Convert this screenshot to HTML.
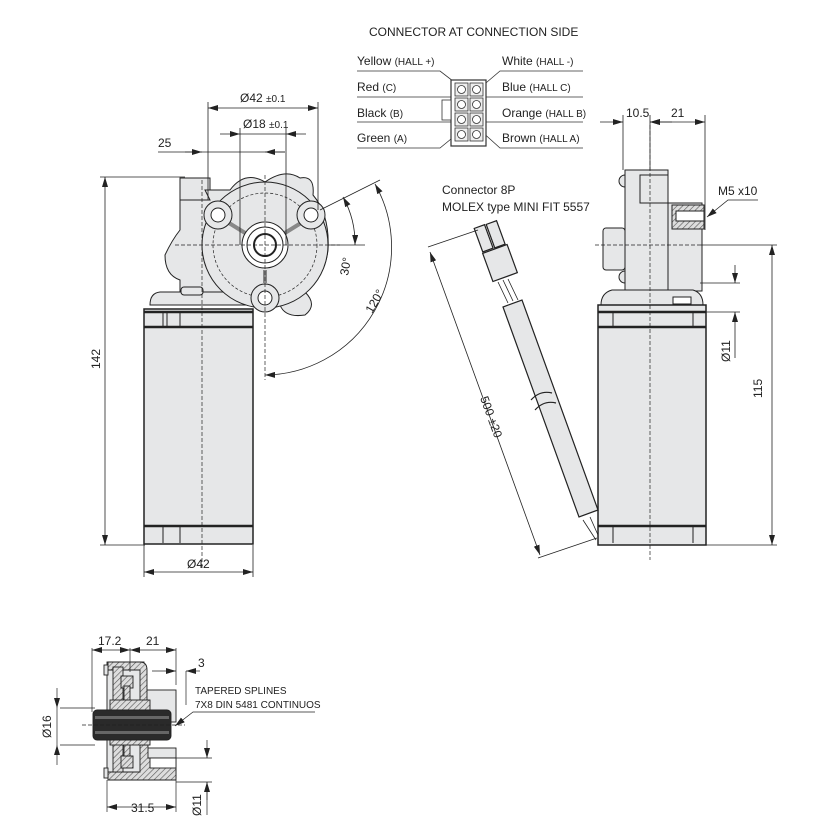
<!DOCTYPE html>
<html><head><meta charset="utf-8"><style>
html,body{margin:0;padding:0;background:#fff}
svg{display:block}
text{font-family:"Liberation Sans",Arial,sans-serif;fill:#222}
</style></head><body>
<svg width="824" height="833" viewBox="0 0 824 833" xmlns="http://www.w3.org/2000/svg">
<defs>
<marker id="a" viewBox="0 0 10 6" refX="10" refY="3" markerWidth="10" markerHeight="6" orient="auto-start-reverse" markerUnits="userSpaceOnUse"><path d="M0,0L10,3L0,6z" fill="#222"/></marker>
<pattern id="h" width="4" height="4" patternUnits="userSpaceOnUse" patternTransform="rotate(45)"><rect width="4" height="4" fill="#ddd"/><line x1="0" y1="0" x2="0" y2="4" stroke="#555" stroke-width="1.2"/></pattern>
</defs>
<text x="369" y="36" font-size="12">CONNECTOR AT CONNECTION SIDE</text>
<g font-size="12">
<text x="357" y="65">Yellow <tspan font-size="10">(HALL +)</tspan></text>
<text x="357" y="91">Red <tspan font-size="10">(C)</tspan></text>
<text x="357" y="117">Black <tspan font-size="10">(B)</tspan></text>
<text x="357" y="142">Green <tspan font-size="10">(A)</tspan></text>
<text x="502" y="65">White <tspan font-size="10">(HALL -)</tspan></text>
<text x="502" y="91">Blue <tspan font-size="10">(HALL C)</tspan></text>
<text x="502" y="117">Orange <tspan font-size="10">(HALL B)</tspan></text>
<text x="502" y="142">Brown <tspan font-size="10">(HALL A)</tspan></text>
</g>
<g stroke="#333" fill="none" stroke-width="0.8">
<path d="M357,71H440L462,88M357,97H462M357,122H462M357,148H440L462,130"/>
<path d="M583,71H500L480,88M583,97H480M583,122H480M583,148H500L480,130"/>
<rect x="451" y="80" width="35" height="66" fill="#fff" stroke-width="1.2"/>
<rect x="442" y="100" width="9" height="20" fill="#fff"/>
<g fill="#eee">
<rect x="455" y="83" width="13" height="13"/><rect x="470" y="83" width="13" height="13"/>
<rect x="455" y="98" width="13" height="13"/><rect x="470" y="98" width="13" height="13"/>
<rect x="455" y="113" width="13" height="13"/><rect x="470" y="113" width="13" height="13"/>
<rect x="455" y="128" width="13" height="13"/><rect x="470" y="128" width="13" height="13"/>
</g>
<g fill="#fff"><circle cx="461.5" cy="89.5" r="4"/><circle cx="476.5" cy="89.5" r="4"/><circle cx="461.5" cy="104.5" r="4"/><circle cx="476.5" cy="104.5" r="4"/><circle cx="461.5" cy="119.5" r="4"/><circle cx="476.5" cy="119.5" r="4"/><circle cx="461.5" cy="134.5" r="4"/><circle cx="476.5" cy="134.5" r="4"/></g>
</g>

<!-- LEFT VIEW -->
<g stroke="#222" stroke-width="1">
<path d="M180,178H210V200H180Z" fill="#e6e7e8"/>
<path d="M180,200H210L205,190 L230,190 Q245,170 265,182 Q285,168 300,178 Q315,175 313,195 Q330,215 328,250 Q325,275 305,292 Q318,305 305,315 Q285,318 280,305 H180 V280 Q165,275 165,255 Q172,240 180,230Z" fill="#e6e7e8"/>
<path d="M150,305 Q150,293 160,292 H250 Q258,293 258,305Z" fill="#e6e7e8"/>
<rect x="181" y="287" width="22" height="8" rx="3" fill="#e6e7e8"/>
<circle cx="265" cy="245" r="63" fill="#e6e7e8"/>
<circle cx="265" cy="245" r="52" fill="none" stroke-dasharray="3,2" stroke-width="0.7"/>
<path d="M229,223L250,236M301,223L280,236M265,283V270" stroke-width="4" stroke="#888"/>
<circle cx="218" cy="215" r="14" fill="#e6e7e8"/><circle cx="218" cy="215" r="7" fill="#fff"/>
<circle cx="311" cy="215" r="14" fill="#e6e7e8"/><circle cx="311" cy="215" r="7" fill="#fff"/>
<circle cx="265" cy="298" r="14" fill="#e6e7e8"/><circle cx="265" cy="298" r="7" fill="#fff"/>
<circle cx="265" cy="245" r="23" fill="#fff"/><circle cx="265" cy="245" r="18" fill="none"/><circle cx="265" cy="245" r="11" fill="#fff" stroke-width="2"/>
<rect x="144" y="309" width="109" height="235" fill="#e6e7e8" stroke-width="1.5"/>
<path d="M144,312H253M144,327H253M144,526H253" stroke-width="2.5"/>
<path d="M163,312V327M167,312V327M180,312V327M163,526V543M180,526V543"/>
</g>
<g stroke="#222" stroke-width="0.7" stroke-dasharray="4,2" fill="none">
<path d="M202,180V570M175,245H340M265,175V380"/>
</g>
<g stroke="#222" stroke-width="0.8" fill="none">
<path d="M100,177H185M100,545H145"/>
<path d="M105,177V545" marker-start="url(#a)" marker-end="url(#a)"/>
<path d="M144,545V577M253,545V577"/>
<path d="M144,572H253" marker-start="url(#a)" marker-end="url(#a)"/>
<path d="M208,102V200M318,102V210M240,128V245M286,128V245"/>
<path d="M208,108H318" marker-start="url(#a)" marker-end="url(#a)"/>
<path d="M220,134H240" marker-end="url(#a)"/><path d="M306,134H286" marker-end="url(#a)"/><path d="M240,134H286"/>
<path d="M158,152H202" /><path d="M185,152H202" marker-end="url(#a)"/><path d="M285,152H265" marker-end="url(#a)"/><path d="M202,152H285"/>
<path d="M320,210L380,180M328,245H365"/>
<path d="M343,197A95,95 0 0 1 355,245" marker-start="url(#a)" marker-end="url(#a)"/>
<path d="M375,184A128,128 0 0 1 265,375" marker-start="url(#a)" marker-end="url(#a)"/>
</g>
<text x="240" y="102" font-size="12">Ø42 <tspan font-size="10">±0.1</tspan></text>
<text x="243" y="128" font-size="12">Ø18 <tspan font-size="10">±0.1</tspan></text>
<text x="158" y="147" font-size="12">25</text>
<text x="187" y="568" font-size="12">Ø42</text>
<text font-size="12" transform="translate(100,369) rotate(-90)">142</text>
<text font-size="12" transform="translate(348,276) rotate(-80)">30°</text>
<text font-size="12" transform="translate(372,314) rotate(-60)">120°</text>

<!-- RIGHT VIEW -->
<text x="442" y="194" font-size="12">Connector 8P</text>
<text x="442" y="211" font-size="12">MOLEX type MINI FIT 5557</text>
<text x="626" y="117" font-size="12">10.5</text>
<text x="671" y="117" font-size="12">21</text>
<g stroke="#222" stroke-width="1">
<rect x="603" y="228" width="22" height="42" rx="3" fill="#e6e7e8"/>
<circle cx="625" cy="181" r="6" fill="#e6e7e8"/><circle cx="625" cy="277" r="6" fill="#e6e7e8"/>
<rect x="668" y="203" width="34" height="88" fill="#e6e7e8"/>
<rect x="672" y="205" width="32" height="24" fill="url(#h)"/>
<rect x="676" y="211" width="28" height="10" fill="#fff"/>
<rect x="625" y="170" width="43" height="125" fill="#e6e7e8"/>
<rect x="640" y="175" width="28" height="28" fill="#e6e7e8"/>
<path d="M601,305Q601,293 612,290H693Q703,293 703,305Z" fill="#e6e7e8"/>
<rect x="598" y="305" width="108" height="240" fill="#e6e7e8" stroke-width="1.5"/>
<path d="M598,312H706M598,327H706M598,526H706" stroke-width="2.5"/>
<path d="M613,312V327M693,312V327M613,526V543M693,526V543"/>
<rect x="673" y="297" width="18" height="7" fill="#fff"/>
</g>
<g stroke="#222" stroke-width="0.7" stroke-dasharray="4,2" fill="none"><path d="M650,125V560M595,245H700"/></g>
<g stroke="#222" stroke-width="0.8" fill="none">
<path d="M623,115V170M650,115V170M705,115V230"/>
<path d="M600,122H623" marker-end="url(#a)"/><path d="M672,122H650" marker-end="url(#a)"/><path d="M650,122H705" marker-start="url(#a)" marker-end="url(#a)"/>
<path d="M700,245H777M706,545H777"/>
<path d="M772,245V545" marker-start="url(#a)" marker-end="url(#a)"/>
<path d="M700,283H740M706,312H740"/>
<path d="M735,265V283" marker-end="url(#a)"/><path d="M735,330V312" marker-end="url(#a)"/><path d="M735,330V358"/>
<path d="M758,200H728L707,217" marker-end="url(#a)"/>
</g>
<!-- cable -->
<g stroke="#222" stroke-width="1.2">
<path d="M503,307L579,517L598,510L522,300Z" fill="#e6e7e8"/>
<path d="M531,400Q540,390 552,393" fill="none"/>
<path d="M535,410Q544,400 556,403" fill="none"/>
<path d="M508,303L498,282M513,301L503,280M518,300L508,279" stroke-width="0.8"/>
<path d="M583,520L596,540M590,517L598,535" stroke-width="0.8"/>
<rect x="487" y="248" width="26" height="30" transform="rotate(-20 500 263)" fill="#e6e7e8"/>
<rect x="478" y="226" width="11" height="25" transform="rotate(-20 483 238)" fill="#e6e7e8"/>
<rect x="490" y="222" width="11" height="25" transform="rotate(-20 495 234)" fill="#e6e7e8"/>
</g>
<g stroke="#222" stroke-width="0.8" fill="none">
<path d="M430,252L540,555" marker-start="url(#a)" marker-end="url(#a)"/>
<path d="M428,247L478,230M538,558L597,538"/>
</g>
<text font-size="12" transform="translate(480,398) rotate(70)">500 ±20</text>
<text font-size="12" transform="translate(762,398) rotate(-90)">115</text>
<text font-size="12" transform="translate(730,362) rotate(-90)">Ø11</text>
<text x="718" y="195" font-size="12">M5 x10</text>

<!-- BOTTOM SECTION -->
<g stroke="#222" stroke-width="0.9">
<rect x="107" y="662" width="37" height="112" fill="#e6e7e8"/>
<rect x="144" y="690" width="32" height="32" fill="#e6e7e8"/>
<rect x="144" y="748" width="32" height="30" fill="#e6e7e8"/>
<path d="M108,662H140Q147,662 147,670V705H140V670H108Z" fill="url(#h)"/>
<path d="M108,780H176V758H148V745H140V772H108Z" fill="url(#h)"/>
<rect x="113" y="667" width="10" height="105" fill="url(#h)"/>
<rect x="121" y="676" width="12" height="12" fill="url(#h)"/>
<rect x="121" y="756" width="12" height="12" fill="url(#h)"/>
<rect x="124" y="686" width="6" height="70" fill="url(#h)"/>
<rect x="110" y="700" width="40" height="10" fill="url(#h)"/>
<rect x="110" y="735" width="40" height="10" fill="url(#h)"/>
<rect x="93" y="710" width="78" height="30" rx="4" fill="#2a2a2a"/>
<rect x="95" y="716" width="74" height="3" fill="#666" stroke="none"/>
<rect x="95" y="731" width="74" height="3" fill="#666" stroke="none"/>
<rect x="150" y="758" width="26" height="10" fill="#fff"/>
<rect x="104" y="665" width="4" height="10" fill="#e6e7e8"/>
<rect x="104" y="768" width="4" height="10" fill="#e6e7e8"/>
</g>
<g stroke="#222" stroke-width="0.7" fill="none">
<path d="M82,725H185" stroke-dasharray="4,2"/>
<path d="M92,648V712M130,648V672M176,648V685"/>
<path d="M92,650H130" marker-start="url(#a)" marker-end="url(#a)"/>
<path d="M130,650H176" marker-start="url(#a)" marker-end="url(#a)"/>
<path d="M152,671H176" marker-end="url(#a)"/><path d="M200,671H186" marker-end="url(#a)"/><path d="M186,671V705"/>
<path d="M60,708H95M60,745H95"/>
<path d="M57,688V708" marker-end="url(#a)"/><path d="M57,765V745" marker-end="url(#a)"/><path d="M57,708V745"/>
<path d="M107,780V812M176,780V812"/>
<path d="M107,807H176" marker-start="url(#a)" marker-end="url(#a)"/>
<path d="M176,758H212M176,782H212"/>
<path d="M207,740V758" marker-end="url(#a)"/><path d="M207,800V782" marker-end="url(#a)"/><path d="M207,782V815"/>
<path d="M315,712H193L175,726" marker-end="url(#a)"/>
</g>
<text x="98" y="645" font-size="12">17.2</text>
<text x="146" y="645" font-size="12">21</text>
<text x="198" y="667" font-size="12">3</text>
<text x="195" y="694" font-size="10">TAPERED SPLINES</text>
<text x="195" y="708" font-size="10">7X8 DIN 5481 CONTINUOS</text>
<text x="131" y="812" font-size="12">31.5</text>
<text font-size="12" transform="translate(51,738) rotate(-90)">Ø16</text>
<text font-size="12" transform="translate(201,816) rotate(-90)">Ø11</text>
</svg>
</body></html>
